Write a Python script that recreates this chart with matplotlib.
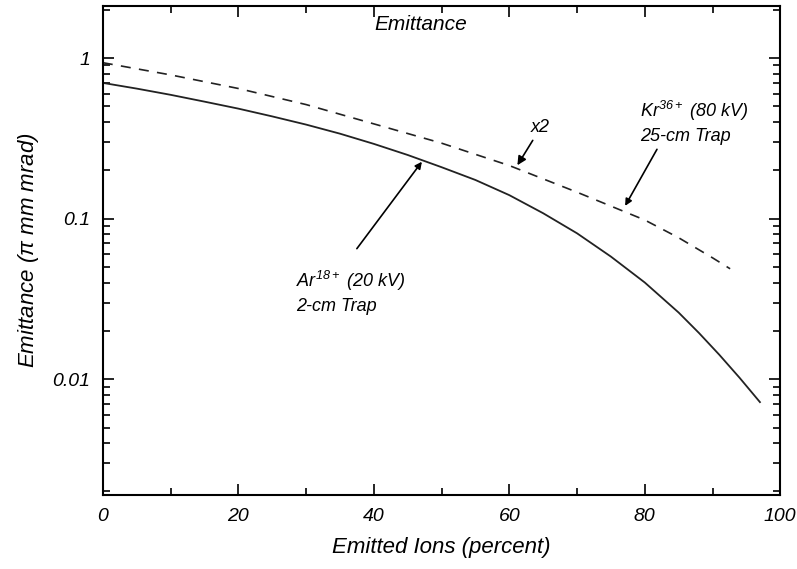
import matplotlib.pyplot as plt
from matplotlib.ticker import MultipleLocator, LogLocator, NullFormatter, FixedLocator, FixedFormatter

plt.rcParams['font.family'] = ['Liberation Sans', 'DejaVu Sans']
plt.rcParams['font.style'] = 'italic'
plt.rcParams['mathtext.fontset'] = 'custom'
plt.rcParams['mathtext.it'] = 'Liberation Sans:italic'
plt.rcParams['mathtext.rm'] = 'Liberation Sans:italic'

# Ar18+ (20 kV), 2-cm trap -- solid
ar_x = [0, 5, 10, 15, 20, 25, 30, 35, 40, 45, 50, 55, 60, 65, 70, 75, 80,
        85, 88, 91, 94, 97]
ar_y = [0.70, 0.645, 0.59, 0.535, 0.484, 0.433, 0.385, 0.338, 0.292, 0.249,
        0.209, 0.174, 0.140, 0.108, 0.081, 0.058, 0.040, 0.026, 0.0194,
        0.0142, 0.0102, 0.0072]

# Kr36+ (80 kV), 25-cm trap, x2 -- dashed
kr_x = [0, 10, 20, 30, 40, 50, 60, 70, 80, 85, 90, 92.6]
kr_y = [0.935, 0.785, 0.646, 0.513, 0.389, 0.295, 0.214, 0.146, 0.098, 0.076,
        0.057, 0.0487]

y_ticks = [0.01, 0.1, 1]
y_labels = ["0.01", "0.1", "1"]

fig = plt.figure(figsize=(7.97, 5.69), dpi=100)
ax = fig.add_axes([0.129, 0.130, 0.850, 0.859])

ax.plot(ar_x, ar_y, color="#222222", linewidth=1.3)
ax.plot(kr_x, kr_y, color="#222222", linewidth=1.2, dashes=(6, 5))

ax.set_yscale("log")
ax.set_xlim(0, 100)
ax.set_ylim(0.0019, 2.1)

ax.xaxis.set_major_locator(MultipleLocator(20))
ax.xaxis.set_minor_locator(MultipleLocator(10))
ax.yaxis.set_major_locator(FixedLocator(y_ticks))
ax.yaxis.set_major_formatter(FixedFormatter(y_labels))
ax.yaxis.set_minor_locator(LogLocator(base=10, subs=range(2, 10)))
ax.yaxis.set_minor_formatter(NullFormatter())

ax.tick_params(which="both", direction="in", top=True, right=True, width=1.2, labelsize=14)
ax.tick_params(which="major", length=8, pad=9)
ax.tick_params(which="minor", length=5)
for s in ax.spines.values():
    s.set_linewidth(1.5)

ax.set_xlabel("Emitted Ions (percent)", fontsize=16, labelpad=9)
ax.set_ylabel(r"Emittance ($\pi$ mm mrad)", fontsize=16, labelpad=8)

ax.text(47, 1.62, "Emittance", fontsize=15, ha="center", va="center")

ax.annotate("x2", xy=(61.2, 0.215), xytext=(64.6, 0.367), fontsize=13,
            ha="center", va="center",
            arrowprops=dict(arrowstyle="-|>", color="black", lw=1.2, shrinkA=1, shrinkB=0))
ax.text(79.3, 0.40, "Kr$^{36+}$ (80 kV)\n25-cm Trap", fontsize=13, ha="left", va="center",
        linespacing=1.45)
ax.annotate("", xy=(77.1, 0.12), xytext=(81.8, 0.27),
            arrowprops=dict(arrowstyle="-|>", color="black", lw=1.2, shrinkA=0, shrinkB=0))

ax.text(28.5, 0.035, "Ar$^{18+}$ (20 kV)\n2-cm Trap", fontsize=13, ha="left", va="center",
        linespacing=1.35)
ax.annotate("", xy=(47.1, 0.226), xytext=(37.5, 0.065),
            arrowprops=dict(arrowstyle="-|>", color="black", lw=1.2, shrinkA=0, shrinkB=0))

fig.savefig("out.png", dpi=100)
